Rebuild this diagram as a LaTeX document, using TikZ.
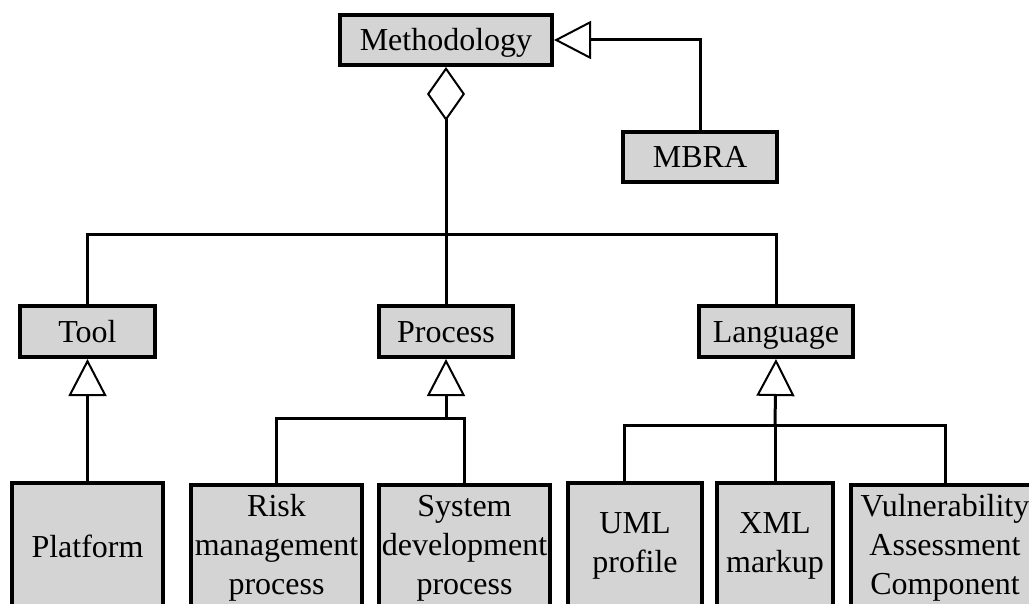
\documentclass[tikz,border=0pt]{standalone}
\usepackage{fontspec}
\setmainfont{Liberation Serif}
\usetikzlibrary{arrows.meta}
\begin{document}
\begin{tikzpicture}[x=1pt,y=-1pt,
  base/.style={draw=black, line width=4pt, fill=black!17, inner sep=0pt,
    align=center, font=\fontsize{32}{39}\selectfont},
  box/.style={base, minimum height=50pt, text height=22pt, text depth=0pt},
  leaf/.style={base, minimum height=126pt},
  link/.style={draw=black, line width=3pt},
  gen/.style={link, -{Triangle[open, length=37pt, width=38pt, line width=2pt, fill=white]}},
  agg/.style={link, {Diamond[open, length=54pt, width=38pt, line width=2pt, fill=white]}-}]
\useasboundingbox (0,0) rectangle (1029,604);
\clip (0,0) rectangle (1029,604);

% upper classes
\node[box, minimum width=212pt] (meth) at (446,40) {Methodology};
\node[box, minimum width=154pt] (mbra) at (700,157) {MBRA};
\node[box, minimum width=135pt, minimum height=51pt] (tool) at (87.5,331.5) {Tool};
\node[box, minimum width=134pt, minimum height=51pt] (proc) at (446,331.5) {Process};
\node[box, minimum width=154pt, minimum height=51pt] (lang) at (776,331.5) {Language};

% leaf classes (running past the lower edge)
\node[leaf, minimum width=151pt] (plat) at (87.5,546) {Platform};
\node[leaf, minimum width=171pt] (risk) at (276.5,548) {Risk\\management\\process};
\node[leaf, minimum width=171pt] (sysd) at (464.5,548) {System\\development\\process};
\node[leaf, minimum width=134pt] (uml) at (635,546) {UML\\profile};
\node[leaf, minimum width=116pt] (xml) at (775,546) {XML\\markup};
\node[leaf, minimum width=188pt] (vuln) at (945,548) {Vulnerability\\Assessment\\Component};

% junction points
\coordinate (bus) at (446,235);
\coordinate (pj) at (446,418);
\coordinate (lj) at (775,425);

% MBRA specialises Methodology
\draw[gen] (mbra.north) |- (meth.east);

% Methodology aggregates Tool, Process, Language
\draw[agg] (meth.south) -- (proc.north);
\draw[link] (tool.north) |- (bus) -| (lang.north);

% specialisations
\draw[gen] (plat.north) -- (tool.south);
\draw[gen] (pj) -- (proc.south);
\draw[link] (risk.north) |- (pj) -| (sysd.north);
\draw[gen] (lj) -- (lang.south);
\draw[link] ([xshift=-11pt]uml.north) |- (lj) -| (vuln.north);
\draw[link] (xml.north) -- (lj);
\end{tikzpicture}
\end{document}
